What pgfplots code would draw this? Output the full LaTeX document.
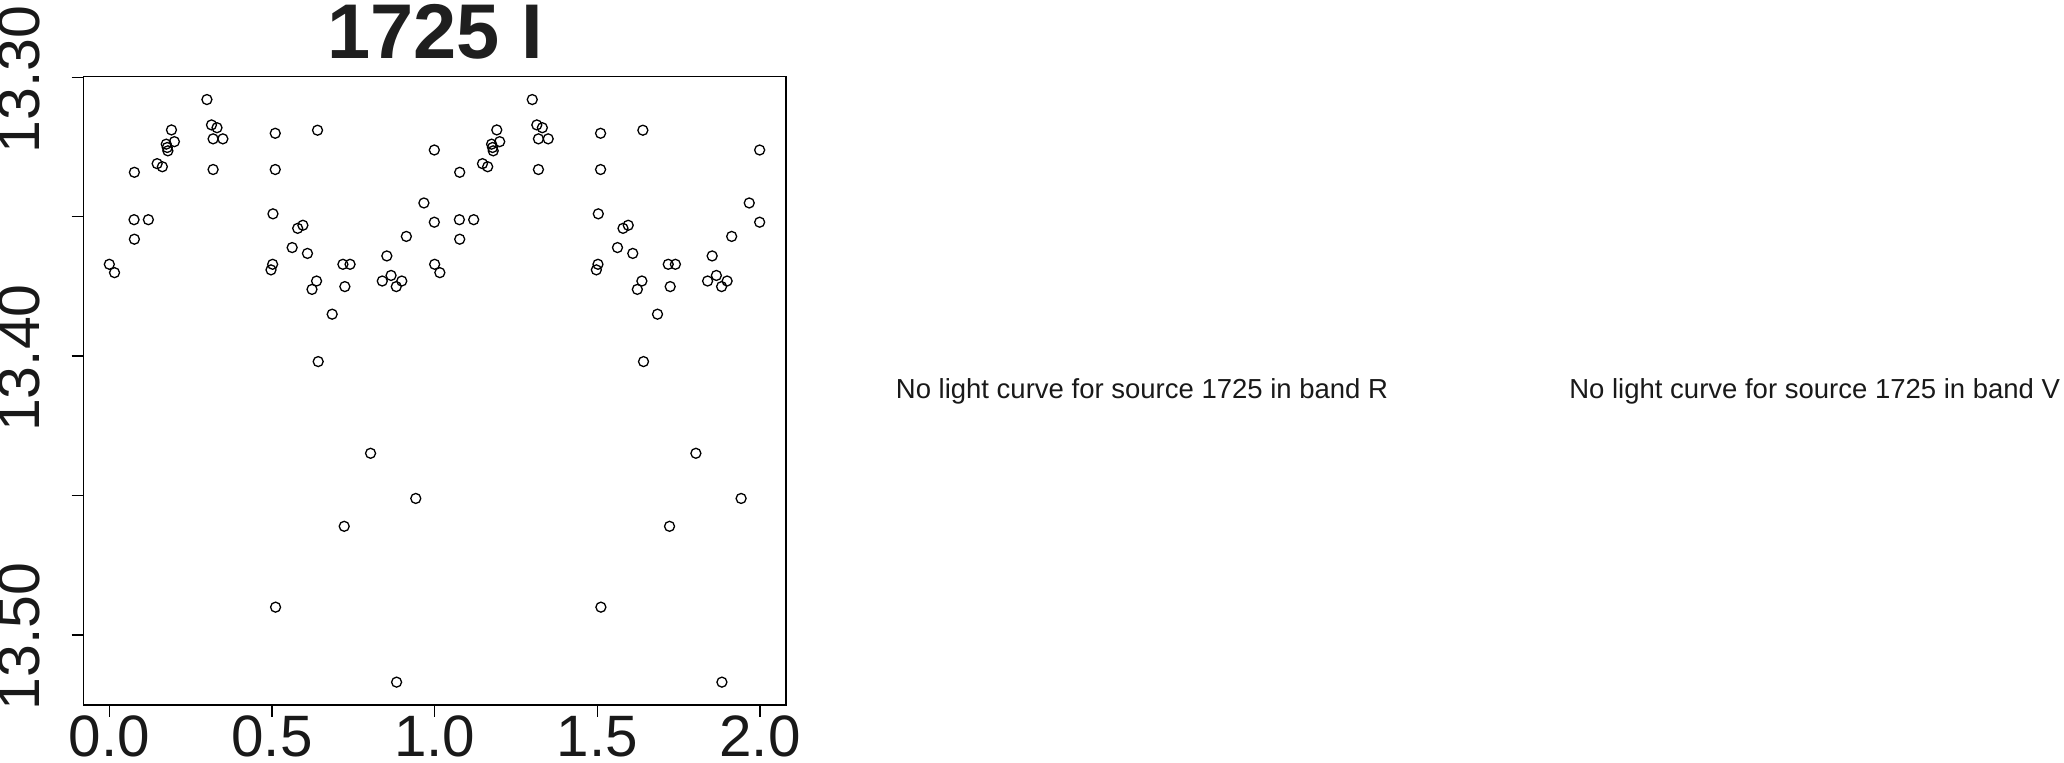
\documentclass[border=0pt]{standalone}
\usepackage{fontspec}
\setmainfont{Liberation Sans}
\usepackage{pgfplots}
\pgfplotsset{compat=1.18}
\usepackage{pgfplotstable}

\pgfplotstableread{
x y
0.000 13.3671
0.016 13.3701
0.077 13.3341
0.076 13.3511
0.120 13.3511
0.077 13.3581
0.147 13.3310
0.163 13.3321
0.175 13.3240
0.178 13.3252
0.180 13.3264
0.191 13.3189
0.200 13.3231
0.300 13.3080
0.314 13.3171
0.331 13.3181
0.319 13.3221
0.349 13.3221
0.319 13.3331
0.510 13.3201
0.510 13.3331
0.503 13.3490
0.502 13.3671
0.497 13.3691
0.562 13.3611
0.579 13.3542
0.595 13.3531
0.609 13.3632
0.640 13.3190
0.637 13.3731
0.623 13.3761
0.685 13.3850
0.642 13.4020
0.718 13.3671
0.740 13.3671
0.724 13.3751
0.853 13.3641
0.839 13.3731
0.866 13.3711
0.882 13.3751
0.899 13.3731
0.913 13.3571
0.967 13.3451
0.999 13.3261
0.999 13.3520
0.803 13.4349
0.722 13.4611
0.942 13.4511
0.511 13.4901
0.883 13.5170
}\firsthalf

\pgfplotstableread{
x y
1.000 13.3671
1.016 13.3701
1.077 13.3341
1.076 13.3511
1.120 13.3511
1.077 13.3581
1.147 13.3310
1.163 13.3321
1.175 13.3240
1.178 13.3252
1.180 13.3264
1.191 13.3189
1.200 13.3231
1.300 13.3080
1.314 13.3171
1.331 13.3181
1.319 13.3221
1.349 13.3221
1.319 13.3331
1.510 13.3201
1.510 13.3331
1.503 13.3490
1.502 13.3671
1.497 13.3691
1.562 13.3611
1.579 13.3542
1.595 13.3531
1.609 13.3632
1.640 13.3190
1.637 13.3731
1.623 13.3761
1.685 13.3850
1.642 13.4020
1.718 13.3671
1.740 13.3671
1.724 13.3751
1.853 13.3641
1.839 13.3731
1.866 13.3711
1.882 13.3751
1.899 13.3731
1.913 13.3571
1.967 13.3451
1.999 13.3261
1.999 13.3520
1.803 13.4349
1.722 13.4611
1.942 13.4511
1.511 13.4901
1.883 13.5170
}\secondhalf

\begin{document}
\begin{tikzpicture}
\path (0,0) rectangle (1032pt,381.5pt);
\begin{axis}[
  at={(41.65pt,29pt)}, anchor=south west,
  scale only axis, width=351.35pt, height=314.15pt,
  xmin=-0.08, xmax=2.08, ymin=13.2998, ymax=13.5252, y dir=reverse,
  axis line style={line width=0.75pt, black},
  xtick={0,0.5,1,1.5,2}, xticklabels={0.0,0.5,1.0,1.5,2.0},
  ytick={13.30,13.35,13.40,13.45,13.50}, yticklabels={13.30,,13.40,,13.50},
  xtick pos=bottom, ytick pos=left,
  tick align=outside, major tick length=5.85pt,
  tick style={line width=0.75pt, black},
  ticklabel style={font=\fontsize{29.5}{30}\selectfont, inner sep=0pt, text=black!90},
  xticklabel style={font=\fontsize{29.2}{30}\selectfont, anchor=north, yshift=0.6pt},
  yticklabel style={anchor=south, xshift=-15.5pt, yshift=-1pt, rotate=90},
  /pgf/number format/assume math mode=true,
]
\addplot[only marks, mark=o, mark size=2.5pt, mark options={line width=0.65pt, black}] table[x=x, y=y] {\firsthalf};
\addplot[only marks, mark=o, mark size=2.5pt, mark options={line width=0.65pt, black}] table[x=x, y=y] {\secondhalf};
\end{axis}
\node[anchor=base, inner sep=0pt, text=black!88] at (217.5pt,352.35pt) {\bfseries\fontsize{38.8}{40}\selectfont 1725 I};
\node[anchor=base, inner sep=0pt, text=black!90] at (571pt,182.35pt) {\fontsize{13.75}{15}\selectfont No light curve for source 1725 in band R};
\node[anchor=base, inner sep=0pt, text=black!90] at (907.35pt,182.35pt) {\fontsize{13.75}{15}\selectfont No light curve for source 1725 in band V};
\pgfresetboundingbox
\useasboundingbox (0,0) rectangle (1032pt,381.5pt);
\end{tikzpicture}
\end{document}
